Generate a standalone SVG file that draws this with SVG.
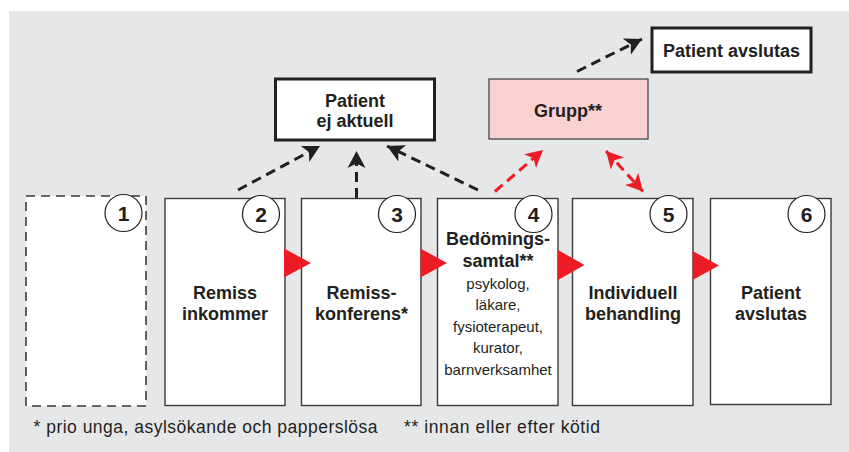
<svg xmlns="http://www.w3.org/2000/svg" width="849" height="452" viewBox="0 0 849 452">
  <style>
    .bg { fill: #e6e7e8; }
    .step { fill: #ffffff; stroke: #3a3a3a; stroke-width: 1.4; }
    .step-dashed { fill: #ffffff; stroke: #3a3a3a; stroke-width: 1.6; stroke-dasharray: 9 6; }
    .top { fill: #ffffff; stroke: #231f20; stroke-width: 3; }
    .grupp { fill: #f9d1d0; stroke: #3a3a3a; stroke-width: 1.2; }
    .num { fill: #ffffff; stroke: #231f20; stroke-width: 1.2; }
    .t { font-family: "Liberation Sans", Arial, sans-serif; fill: #231f20; }
    .b { font-weight: bold; font-size: 18px; text-anchor: middle; }
    .n { font-weight: bold; font-size: 21px; text-anchor: middle; }
    .r { font-size: 15px; text-anchor: middle; }
    .f { font-size: 17.5px; }
    .dk { fill: none; stroke: #231f20; stroke-width: 3; stroke-dasharray: 10 6; }
    .rd { fill: none; stroke: #ed1c24; stroke-width: 3; stroke-dasharray: 10 6; }
    .flow { fill: #ed1c24; }
  </style>
  <defs>
    <marker id="ah" markerUnits="userSpaceOnUse" markerWidth="20" markerHeight="20" refX="17" refY="9" orient="auto-start-reverse" viewBox="0 0 20 18">
      <path d="M0,0 L17,9 L0,18 L4.5,9 z" fill="#231f20"/>
    </marker>
    <marker id="ahr" markerUnits="userSpaceOnUse" markerWidth="20" markerHeight="20" refX="17" refY="9" orient="auto-start-reverse" viewBox="0 0 20 18">
      <path d="M0,0 L17,9 L0,18 L4.5,9 z" fill="#ed1c24"/>
    </marker>
  </defs>

  <rect class="bg" x="9" y="11" width="840" height="441"/>

  <g id="connectors">
    <line class="dk" x1="238" y1="190" x2="320" y2="146" marker-end="url(#ah)"/>
    <line class="dk" x1="356.5" y1="198" x2="356.5" y2="151" marker-end="url(#ah)"/>
    <line class="dk" x1="478" y1="190" x2="387" y2="146" marker-end="url(#ah)"/>
    <line class="dk" x1="577" y1="71.5" x2="642" y2="39" marker-end="url(#ah)"/>
    <line class="rd" x1="495" y1="191.5" x2="543" y2="150" marker-end="url(#ahr)"/>
    <line class="rd" x1="606" y1="151" x2="643" y2="191.5" marker-start="url(#ahr)" marker-end="url(#ahr)"/>
  </g>

  <g id="node-ej-aktuell">
    <rect class="top" x="275.5" y="79" width="159" height="61"/>
    <text class="t b" x="355" y="106.5">Patient</text>
    <text class="t b" x="355" y="127">ej aktuell</text>
  </g>

  <g id="node-grupp">
    <rect class="grupp" x="489" y="79" width="159" height="60"/>
    <text class="t b" x="568" y="116.5">Grupp**</text>
  </g>

  <g id="node-avslutas-top">
    <rect class="top" x="652" y="28" width="159" height="44"/>
    <text class="t b" x="731.5" y="57">Patient avslutas</text>
  </g>

  <g id="step-1">
    <rect class="step-dashed" x="26" y="196" width="120" height="210"/>
    <circle class="num" cx="123.5" cy="213" r="18.5"/>
    <text class="t n" x="123.5" y="220.5">1</text>
  </g>

  <g id="step-2">
    <rect class="step" x="165" y="198.5" width="120" height="207"/>
    <circle class="num" cx="261" cy="214" r="18.5"/>
    <text class="t n" x="261" y="221.5">2</text>
    <text class="t b" x="225" y="299">Remiss</text>
    <text class="t b" x="225" y="320">inkommer</text>
  </g>

  <g id="step-3">
    <rect class="step" x="301.5" y="198.5" width="119.5" height="207"/>
    <circle class="num" cx="397" cy="214" r="18.5"/>
    <text class="t n" x="397" y="221.5">3</text>
    <text class="t b" x="361.5" y="299">Remiss-</text>
    <text class="t b" x="361.5" y="320">konferens*</text>
  </g>

  <g id="step-4">
    <rect class="step" x="437.5" y="198.5" width="120.5" height="207"/>
    <circle class="num" cx="533.5" cy="214" r="18.5"/>
    <text class="t n" x="533.5" y="221.5">4</text>
    <text class="t b" x="498" y="245">Bedömings-</text>
    <text class="t b" x="498" y="267">samtal**</text>
    <text class="t r" x="498" y="288.5">psykolog,</text>
    <text class="t r" x="498" y="310">läkare,</text>
    <text class="t r" x="498" y="331.5">fysioterapeut,</text>
    <text class="t r" x="498" y="353">kurator,</text>
    <text class="t r" x="498" y="374.5">barnverksamhet</text>
  </g>

  <g id="step-5">
    <rect class="step" x="572.5" y="198.5" width="120.5" height="207"/>
    <circle class="num" cx="668.5" cy="214" r="18.5"/>
    <text class="t n" x="668.5" y="221.5">5</text>
    <text class="t b" x="633" y="298.5">Individuell</text>
    <text class="t b" x="633" y="320">behandling</text>
  </g>

  <g id="step-6">
    <rect class="step" x="710.5" y="198.5" width="120.5" height="206"/>
    <circle class="num" cx="806.5" cy="214" r="18.5"/>
    <text class="t n" x="806.5" y="221.5">6</text>
    <text class="t b" x="771" y="298.5">Patient</text>
    <text class="t b" x="771" y="319.5">avslutas</text>
  </g>

  <g id="flow-arrows">
    <polygon class="flow" points="284,248.5 311,263 284,277.5"/>
    <polygon class="flow" points="420.5,248.5 447,263 420.5,277.5"/>
    <polygon class="flow" points="558,250 584.5,265 558,280"/>
    <polygon class="flow" points="692.7,251 719,265.5 692.7,280"/>
  </g>

  <g id="footnotes">
    <text class="t f" x="33.5" y="432.5" textLength="344" lengthAdjust="spacing">* prio unga, asylsökande och papperslösa</text>
    <text class="t f" x="404" y="432.5" textLength="196" lengthAdjust="spacing">** innan eller efter kötid</text>
  </g>
</svg>
